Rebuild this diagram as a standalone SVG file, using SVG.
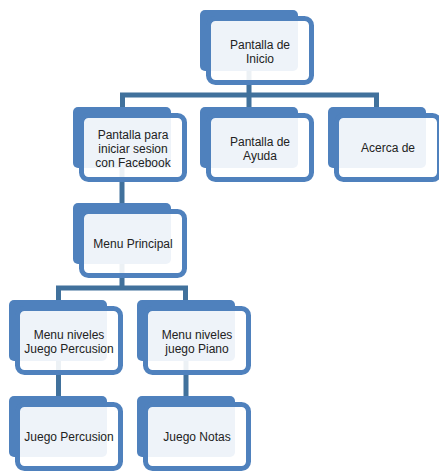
<svg xmlns="http://www.w3.org/2000/svg" width="439" height="472" viewBox="0 0 439 472">
<style>
.back{fill:#4F81BD}
.front{fill:#ffffff;fill-opacity:0.9;stroke:#4F81BD;stroke-width:5}
.conn{stroke:#41719C;stroke-width:5;fill:none}
text{font-family:"Liberation Sans",Arial,sans-serif;font-size:12px;fill:#222;text-anchor:middle}
</style>
<rect width="439" height="472" fill="#ffffff"/>
<g id="connectors">
<path class="conn" d="M249 60 V95 M122.5 95 H376.5 M122.5 92.5 V110 M249 95 V110 M376.5 92.5 V110"/>
<path class="conn" d="M122 160 V206"/>
<path class="conn" d="M122 255 V288 M58.5 288 H185.5 M58.5 285.5 V303 M185.5 285.5 V303"/>
<path class="conn" d="M58.5 350 V399 M186 350 V399"/>
</g>
<g id="n-inicio" transform="translate(200,10)">
<rect class="back" width="98" height="61" rx="5"/>
<rect class="front" x="8.5" y="8.5" width="103" height="64" rx="7"/>
<text x="60" y="39">Pantalla de</text>
<text x="60" y="53">Inicio</text>
</g>
<g id="n-facebook" transform="translate(73,107)">
<rect class="back" width="98" height="61" rx="5"/>
<rect class="front" x="8.5" y="8.5" width="103" height="64" rx="7"/>
<text x="60" y="32">Pantalla para</text>
<text x="60" y="46">iniciar sesion</text>
<text x="60" y="60">con Facebook</text>
</g>
<g id="n-ayuda" transform="translate(200,107)">
<rect class="back" width="98" height="61" rx="5"/>
<rect class="front" x="8.5" y="8.5" width="103" height="64" rx="7"/>
<text x="60" y="39">Pantalla de</text>
<text x="60" y="53">Ayuda</text>
</g>
<g id="n-acerca" transform="translate(328,107)">
<rect class="back" width="98" height="61" rx="5"/>
<rect class="front" x="8.5" y="8.5" width="103" height="64" rx="7"/>
<text x="60" y="45">Acerca de</text>
</g>
<g id="n-menu" transform="translate(73,203)">
<rect class="back" width="98" height="61" rx="5"/>
<rect class="front" x="8.5" y="8.5" width="103" height="64" rx="7"/>
<text x="60" y="45">Menu Principal</text>
</g>
<g id="n-niveles-percusion" transform="translate(9,300)">
<rect class="back" width="98" height="61" rx="5"/>
<rect class="front" x="8.5" y="8.5" width="103" height="64" rx="7"/>
<text x="60" y="39">Menu niveles</text>
<text x="60" y="53">Juego Percusion</text>
</g>
<g id="n-niveles-piano" transform="translate(137,300)">
<rect class="back" width="98" height="61" rx="5"/>
<rect class="front" x="8.5" y="8.5" width="103" height="64" rx="7"/>
<text x="60" y="39">Menu niveles</text>
<text x="60" y="53">juego Piano</text>
</g>
<g id="n-juego-percusion" transform="translate(9,396)">
<rect class="back" width="98" height="61" rx="5"/>
<rect class="front" x="8.5" y="8.5" width="103" height="64" rx="7"/>
<text x="60" y="45">Juego Percusion</text>
</g>
<g id="n-juego-notas" transform="translate(137,396)">
<rect class="back" width="98" height="61" rx="5"/>
<rect class="front" x="8.5" y="8.5" width="103" height="64" rx="7"/>
<text x="60" y="45">Juego Notas</text>
</g>
</svg>
